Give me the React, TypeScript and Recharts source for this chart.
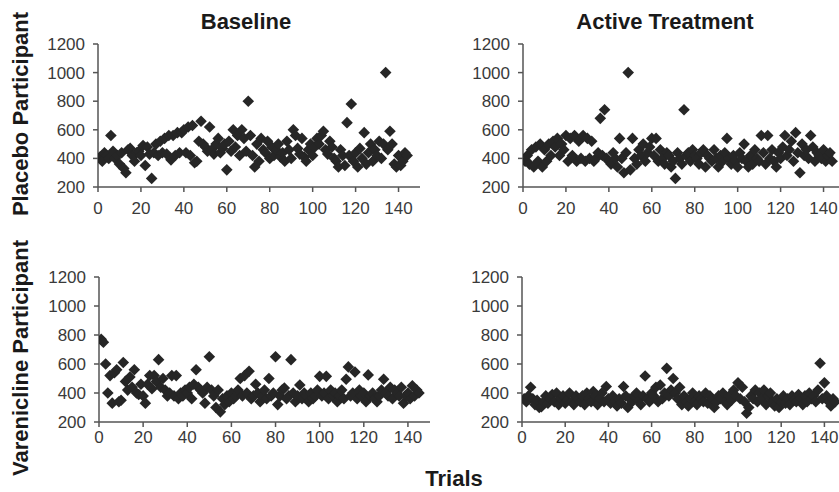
import React from "react"
import { ScatterChart, Scatter, XAxis, YAxis } from "recharts"

// reaction times per trial (ms), one value per trial starting at trial 1
const placeboBaseline = [
  410, 380, 440, 420, 400, 560, 450, 400, 420, 360,
  440, 330, 300, 460, 470, 420, 380, 440, 450, 420,
  490, 350, 480, 430, 260, 440, 500, 420, 520, 440,
  540, 430, 560, 390, 560, 420, 580, 440, 580, 600,
  440, 620, 420, 630, 370, 380, 520, 660, 500, 480,
  450, 620, 460, 430, 500, 540, 440, 470, 500, 320,
  520, 450, 600, 480, 560, 420, 600, 540, 450, 800,
  560, 420, 340, 500, 380, 540, 460, 440, 520, 400,
  480, 420, 460, 500, 410, 440, 380, 520, 460, 400,
  600, 560, 470, 430, 540, 410, 380, 460, 500, 420,
  480, 540, 500, 560, 590, 460, 430, 520, 480, 400,
  380, 340, 460, 420, 350, 650, 420, 780, 380, 440,
  340, 470, 400, 580, 360, 440, 500, 380, 460, 420,
  520, 400, 500, 1000, 460, 590, 500, 360, 340, 420,
  350, 380, 440, 420,
]

const placeboActive = [
  380, 420, 360, 460, 340, 480, 380, 500, 340, 460,
  380, 500, 420, 520, 480, 540, 420, 500, 460, 560,
  380, 540, 420, 560, 380, 520, 400, 560, 380, 540,
  400, 520, 380, 400, 440, 680, 420, 740, 400, 380,
  360, 440, 400, 340, 540, 400, 300, 440, 1000, 320,
  540, 400, 360, 460, 420, 500, 380, 440, 480, 540,
  420, 540, 380, 460, 400, 360, 440, 420, 340, 380,
  260, 440, 400, 360, 740, 420, 440, 380, 460, 420,
  400, 360, 440, 460, 340, 420, 400, 380, 460, 400,
  340, 420, 380, 440, 540, 400, 360, 420, 380, 340,
  440, 400, 500, 380, 340, 420, 360, 460, 400, 380,
  560, 440, 360, 560, 400, 460, 380, 340, 440, 400,
  480, 560, 420, 460, 520, 380, 580, 440, 300, 500,
  420, 460, 400, 560, 480, 380, 440, 420, 400, 460,
  380, 420, 440, 380,
]

const vareniclineBaseline = [
  770, 750, 600, 400, 520, 330, 540, 560, 340, 350,
  610, 480, 420, 510, 440, 560, 400, 390, 460, 380,
  330, 460, 520, 430, 520, 480, 630, 440, 500, 420,
  380, 400, 520, 380, 520, 360, 400, 380, 420, 400,
  440, 360, 460, 560, 440, 420, 400, 330, 440, 650,
  420, 380, 300, 420, 270, 360, 320, 380, 340, 400,
  360, 380, 420, 500, 380, 520, 400, 550, 360, 380,
  460, 400, 340, 380, 420, 360, 500, 380, 400, 650,
  320, 380, 420, 435, 360, 380, 630, 400, 340, 380,
  455, 360, 400, 380, 340, 400, 360, 380, 420, 515,
  380, 400, 515, 360, 420, 380, 400, 340, 380, 420,
  360, 495, 580, 380, 400, 545, 360, 420, 380, 400,
  340, 525, 380, 400, 360, 340, 380, 420, 495, 400,
  380, 440, 360, 420, 400, 380, 440, 330, 380, 400,
  360, 450, 380, 420, 400,
]

const vareniclineActive = [
  360, 340, 380, 440, 360, 320, 350, 300, 306, 340,
  380, 330, 360, 390, 340, 400, 320, 360, 380, 330,
  350, 400, 340, 320, 380, 360, 340, 380, 320, 400,
  360, 340, 410, 380, 320, 360, 400, 340, 445, 360,
  330, 380, 340, 310, 360, 330, 445, 380, 300, 360,
  340, 380, 400, 350, 320, 380, 517, 360, 340, 400,
  380, 440, 340, 455, 360, 400, 570, 380, 420, 500,
  400, 360, 440, 320, 380, 340, 310, 360, 400, 340,
  320, 380, 360, 340, 400, 330, 380, 360, 300, 340,
  380, 360, 400, 340, 320, 380, 350, 420, 380, 470,
  360, 440, 340, 260, 300, 380, 360, 420, 340, 400,
  360, 420, 320, 380, 400, 340, 310, 360, 300, 340,
  380, 330, 360, 320, 380, 350, 340, 390, 360, 320,
  380, 340, 400, 360, 380, 340, 420, 605, 360, 470,
  380, 340, 310, 360, 340,
]

const yTicks = [200, 400, 600, 800, 1000, 1200]
const xTicks = [0, 20, 40, 60, 80, 100, 120, 140]

const font = "'Liberation Sans', Arial, sans-serif"
const axisColor = "#555"
const tickStyle = { fill: "#3a3a3a", fontSize: 17, fontFamily: font }

const toPoints = (values: number[]) =>
  values.map((rt, i) => ({ trial: i + 1, rt }))

const Diamond = (props: any) => {
  const { cx, cy } = props
  if (cx == null || cy == null) return null
  const r = 5.8
  return (
    <path
      d={`M${cx},${cy - r}L${cx + r},${cy}L${cx},${cy + r}L${cx - r},${cy}Z`}
      fill="#262626"
    />
  )
}

function Panel({
  values,
  left,
  top,
  width,
  height,
  xTickGap,
}: {
  values: number[]
  left: number
  top: number
  width: number
  height: number
  xTickGap: number
}) {
  return (
    <div style={{ position: "absolute", left, top }}>
      <ScatterChart
        width={width}
        height={height}
        margin={{ top: 10, right: 10, bottom: 0, left: 0 }}
      >
        <XAxis
          type="number"
          dataKey="trial"
          domain={[0, 150]}
          ticks={xTicks}
          height={35}
          tickSize={5}
          tickMargin={xTickGap}
          tick={tickStyle}
          stroke={axisColor}
          strokeWidth={1.5}
          allowDataOverflow
        />
        <YAxis
          type="number"
          dataKey="rt"
          domain={[200, 1200]}
          ticks={yTicks}
          width={50}
          tickSize={5}
          tickMargin={8}
          tick={tickStyle}
          stroke={axisColor}
          strokeWidth={1.5}
          allowDataOverflow
        />
        <Scatter
          data={toPoints(values)}
          shape={Diamond}
          isAnimationActive={false}
        />
      </ScatterChart>
    </div>
  )
}

export default function App() {
  const labelStyle = {
    fontFamily: font,
    fontWeight: 700,
    fontSize: 22,
    fill: "#1a1a1a",
  }
  return (
    <div
      style={{
        position: "absolute",
        left: 0,
        top: 0,
        width: 839,
        height: 492,
        overflow: "hidden",
        background: "#fff",
      }}
    >
      <Panel values={placeboBaseline} left={48} top={34} width={382} height={188} xTickGap={10} />
      <Panel values={placeboActive} left={473} top={34} width={382} height={188} xTickGap={10} />
      <Panel values={vareniclineBaseline} left={49} top={267} width={391} height={190} xTickGap={4} />
      <Panel values={vareniclineActive} left={472} top={267} width={384} height={190} xTickGap={4} />

      {/* titles and axis labels */}
      <svg
        width={839}
        height={492}
        style={{ position: "absolute", left: 0, top: 0, pointerEvents: "none" }}
      >
        <text x={246} y={29} textAnchor="middle" style={labelStyle}>
          Baseline
        </text>
        <text x={665} y={29} textAnchor="middle" style={labelStyle}>
          Active Treatment
        </text>
        <text x={454} y={486} textAnchor="middle" style={labelStyle}>
          Trials
        </text>
        <text
          x={28}
          y={114}
          textAnchor="middle"
          transform="rotate(-90 28 114)"
          style={labelStyle}
        >
          Placebo Participant
        </text>
        <text
          x={28}
          y={358}
          textAnchor="middle"
          transform="rotate(-90 28 358)"
          style={labelStyle}
        >
          Varenicline Participant
        </text>
      </svg>
    </div>
  )
}
